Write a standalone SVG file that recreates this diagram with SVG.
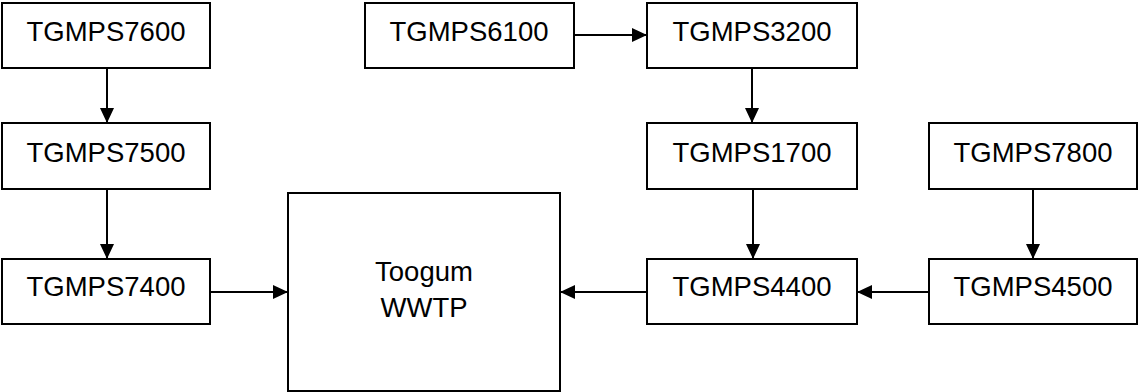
<svg xmlns="http://www.w3.org/2000/svg" width="1138" height="392" viewBox="0 0 1138 392">
  <style>
    .box { fill: #ffffff; stroke: #000000; stroke-width: 2; }
    .lbl { font-family: "Liberation Sans", Arial, sans-serif; font-size: 27.5px; fill: #000000; text-anchor: middle; }
    .edge { stroke: #000000; stroke-width: 2; fill: none; marker-end: url(#arrow); }
  </style>
  <defs>
    <marker id="arrow" markerUnits="userSpaceOnUse" markerWidth="16" markerHeight="16" refX="15" refY="7" orient="auto">
      <path d="M0,0 L15,7 L0,14 Z" fill="#000000"/>
    </marker>
  </defs>
  <rect width="1138" height="392" fill="#ffffff"/>

  <g id="n7600"><rect class="box" x="2" y="3" width="208" height="65"/><text class="lbl" x="106" y="41">TGMPS7600</text></g>
  <g id="n7500"><rect class="box" x="2" y="123" width="208" height="66"/><text class="lbl" x="106" y="162">TGMPS7500</text></g>
  <g id="n7400"><rect class="box" x="2" y="259" width="208" height="65"/><text class="lbl" x="106" y="296">TGMPS7400</text></g>
  <g id="wwtp"><rect class="box" x="288" y="193" width="272" height="198"/><text class="lbl" x="424" y="281">Toogum</text><text class="lbl" x="424" y="317">WWTP</text></g>
  <g id="n6100"><rect class="box" x="365" y="3" width="209" height="65"/><text class="lbl" x="469" y="41">TGMPS6100</text></g>
  <g id="n3200"><rect class="box" x="647" y="3" width="210" height="65"/><text class="lbl" x="752" y="41">TGMPS3200</text></g>
  <g id="n1700"><rect class="box" x="647" y="123" width="210" height="66"/><text class="lbl" x="752" y="162">TGMPS1700</text></g>
  <g id="n4400"><rect class="box" x="647" y="259" width="210" height="65"/><text class="lbl" x="752" y="296">TGMPS4400</text></g>
  <g id="n7800"><rect class="box" x="929" y="123" width="208" height="66"/><text class="lbl" x="1033" y="162">TGMPS7800</text></g>
  <g id="n4500"><rect class="box" x="929" y="259" width="208" height="65"/><text class="lbl" x="1033" y="296">TGMPS4500</text></g>

  <g id="connectors">
    <line class="edge" x1="107" y1="68" x2="107" y2="123"/>
    <line class="edge" x1="107" y1="189" x2="107" y2="259"/>
    <line class="edge" x1="210" y1="292" x2="288" y2="292"/>
    <line class="edge" x1="574" y1="35" x2="647" y2="35"/>
    <line class="edge" x1="752" y1="68" x2="752" y2="123"/>
    <line class="edge" x1="753" y1="189" x2="753" y2="259"/>
    <line class="edge" x1="647" y1="292" x2="560" y2="292"/>
    <line class="edge" x1="1033" y1="189" x2="1033" y2="259"/>
    <line class="edge" x1="929" y1="292" x2="857" y2="292"/>
  </g>
</svg>
